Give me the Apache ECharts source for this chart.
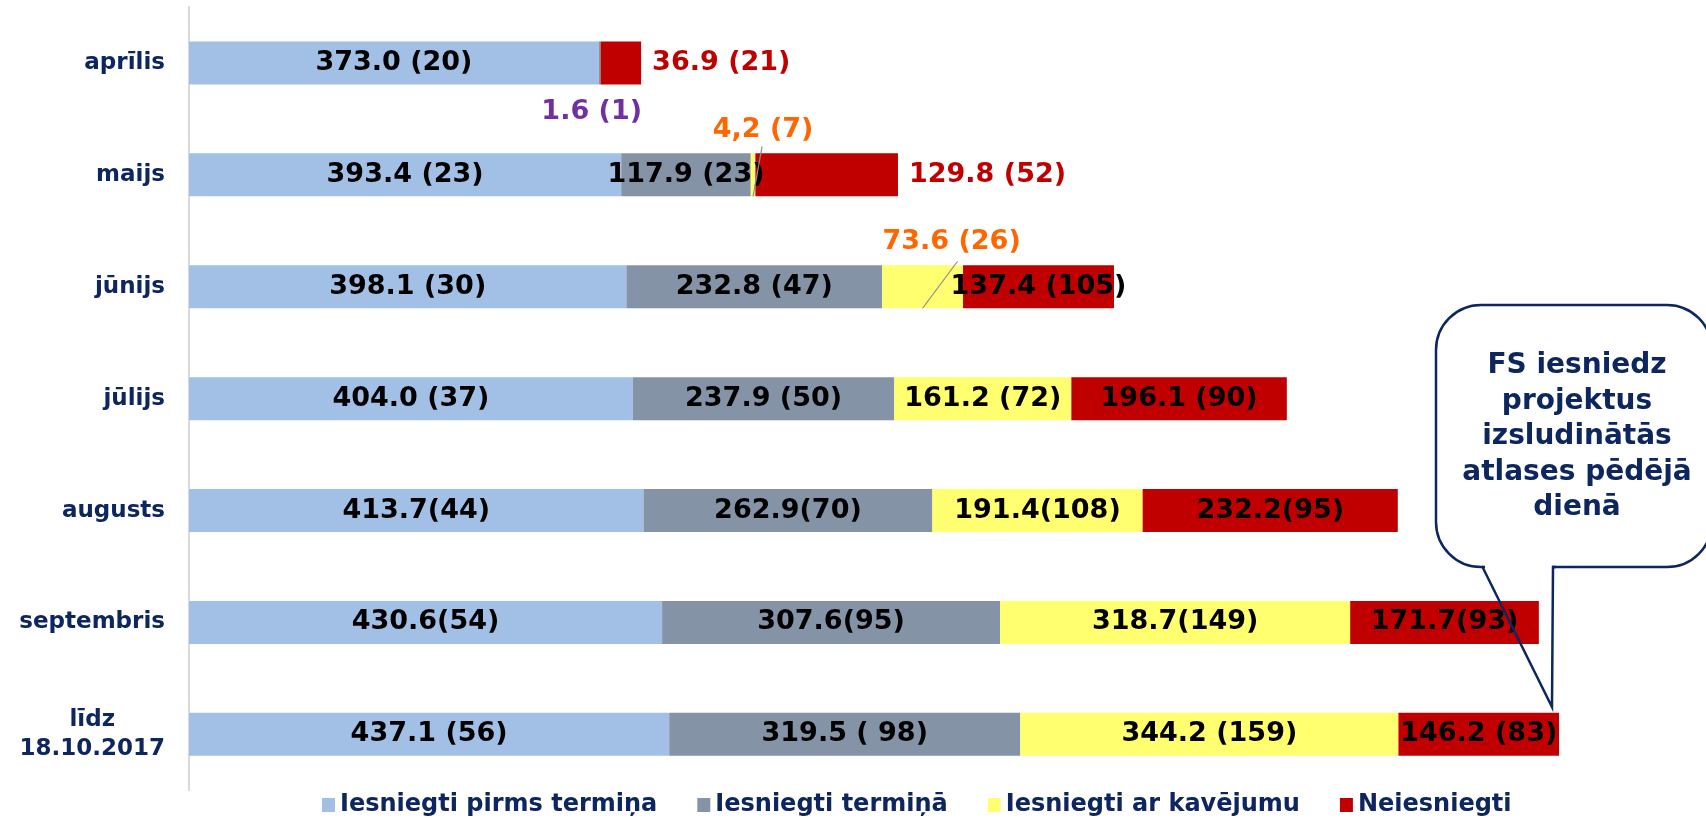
<!DOCTYPE html>
<html>
<head>
<meta charset="utf-8">
<title>Iesniegtie projekti</title>
<script src="https://cdn.jsdelivr.net/npm/echarts@6/dist/echarts.min.js"></script>
<style>
  html, body { margin: 0; padding: 0; background: #fff; }
  #chart { width: 1706px; height: 818px; }
</style>
</head>
<body>
<div id="chart"></div>
<script>
// dati
const categories = ['aprīlis', 'maijs', 'jūnijs', 'jūlijs', 'augusts', 'septembris', 'līdz\n18.10.2017'];
const seriesNames = ['Iesniegti pirms termiņa', 'Iesniegti termiņā', 'Iesniegti ar kavējumu', 'Neiesniegti'];

const preDeadline = [373.0, 393.4, 398.1, 404.0, 413.7, 430.6, 437.1];
const onDeadline = [1.6, 117.9, 232.8, 237.9, 262.9, 307.6, 319.5];
const late = [0, 4.2, 73.6, 161.2, 191.4, 318.7, 344.2];
const notSubmitted = [36.9, 129.8, 137.4, 196.1, 232.2, 171.7, 146.2];

const preLabels = ['373.0 (20)', '393.4 (23)', '398.1 (30)', '404.0 (37)', '413.7(44)', '430.6(54)', '437.1 (56)'];
const onLabels = ['1.6 (1)', '117.9 (23)', '232.8 (47)', '237.9 (50)', '262.9(70)', '307.6(95)', '319.5 ( 98)'];
const lateLabels = ['', '4,2 (7)', '73.6 (26)', '161.2 (72)', '191.4(108)', '318.7(149)', '344.2 (159)'];
const notLabels = ['36.9 (21)', '129.8 (52)', '137.4 (105)', '196.1 (90)', '232.2(95)', '171.7(93)', '146.2 (83)'];

const colors = ['#a2c0e6', '#8593a7', '#ffff70', '#c00000'];
const navy = '#0d2660';
const FONT = 'DejaVu Sans';
const BAR_W = 43;

// atsevišķi izvietotās etiķetes (ārpus stabiņiem)
const labelOverrides = {
  1: { 0: { position: 'bottom', distance: 14, offset: [-8, 0], color: '#7030a0' } },
  2: {
    1: { position: 'top', distance: 10, offset: [10, 0], color: '#ff6600' },
    2: { position: 'top', distance: 10, offset: [29, 0], color: '#ff6600' }
  },
  3: {
    0: { position: 'right', distance: 11, color: '#c00000' },
    1: { position: 'right', distance: 11, color: '#c00000' }
  }
};
// vilkšanas līnijas dzeltenajām etiķetēm: [rinda, dx, atstarpe virs stabiņa]
const leaders = [[1, 9, 7], [2, 35, 4]];

const myChart = echarts.init(document.getElementById('chart'));

function makeSeries(idx, values, labels) {
  return {
    name: seriesNames[idx],
    type: 'bar',
    stack: 'total',
    barWidth: BAR_W,
    itemStyle: { color: colors[idx] },
    label: {
      show: true,
      position: 'inside',
      color: '#000',
      fontFamily: FONT,
      fontWeight: 'bold',
      fontSize: 27,
      textBorderWidth: 0,
      formatter: function (p) { return labels[p.dataIndex]; }
    },
    emphasis: { disabled: true },
    data: values.map(function (v, i) {
      const o = labelOverrides[idx] && labelOverrides[idx][i];
      return o ? { value: v, label: o } : v;
    })
  };
}

const leaderData = leaders.map(function (l) {
  const i = l[0];
  return [preDeadline[i] + onDeadline[i] + late[i] / 2, i, l[1], l[2]];
});

const option = {
  animation: false,
  backgroundColor: '#fff',
  color: colors,
  grid: {
    left: 189,
    top: 7,
    width: 1428.3,
    height: 783.3,
    outerBoundsMode: 'none'
  },
  xAxis: {
    type: 'value',
    min: 0,
    max: 1300,
    show: false
  },
  yAxis: {
    type: 'category',
    inverse: true,
    data: categories,
    axisLine: { show: true, lineStyle: { color: '#d9d9d9', width: 2 } },
    axisTick: { show: false },
    splitLine: { show: false },
    axisLabel: {
      margin: 24,
      align: 'right',
      formatter: function (value) {
        return value.split('\n').map(function (s) { return '{c|' + s + '}'; }).join('\n');
      },
      rich: {
        c: {
          align: 'center',
          color: navy,
          fontFamily: FONT,
          fontWeight: 'bold',
          fontSize: 23,
          lineHeight: 29
        }
      }
    }
  },
  legend: {
    data: seriesNames,
    left: 322,
    top: 793,
    padding: 0,
    itemGap: 40,
    itemWidth: 13,
    itemHeight: 14,
    icon: 'rect',
    selectedMode: false,
    textStyle: {
      color: navy,
      fontFamily: FONT,
      fontWeight: 'bold',
      fontSize: 24
    }
  },
  series: [
    makeSeries(0, preDeadline, preLabels),
    makeSeries(1, onDeadline, onLabels),
    makeSeries(2, late, lateLabels),
    makeSeries(3, notSubmitted, notLabels),
    {
      type: 'custom',
      silent: true,
      z: 5,
      data: leaderData,
      renderItem: function (params, api) {
        const p = api.coord([api.value(0), api.value(1)]);
        const dx = api.value(2);
        const gap = api.value(3);
        return {
          type: 'line',
          shape: {
            x1: p[0], y1: p[1] + BAR_W / 2,
            x2: p[0] + dx, y2: p[1] - BAR_W / 2 - gap
          },
          style: { stroke: '#8c8c8c', lineWidth: 1.2 }
        };
      }
    }
  ],
  graphic: [
    {
      type: 'rect',
      z: 100,
      shape: { x: 1436, y: 305, width: 276, height: 262, r: 45 },
      style: { fill: '#fff', stroke: navy, lineWidth: 2.5 }
    },
    {
      type: 'line',
      z: 101,
      shape: { x1: 1485, y1: 567, x2: 1552, y2: 567 },
      style: { stroke: '#fff', lineWidth: 4 }
    },
    {
      type: 'polyline',
      z: 102,
      shape: { points: [[1482, 566], [1552, 707], [1553, 567], [1556, 567]] },
      style: { fill: null, stroke: navy, lineWidth: 2.5 }
    },
    {
      type: 'text',
      z: 103,
      x: 1577,
      y: 437,
      style: {
        text: 'FS iesniedz\nprojektus\nizsludinātās\natlases pēdējā\ndienā',
        fill: navy,
        font: 'bold 28px "DejaVu Sans"',
        align: 'center',
        verticalAlign: 'middle',
        lineHeight: 35.5
      }
    }
  ]
};

myChart.setOption(option);
</script>
</body>
</html>
